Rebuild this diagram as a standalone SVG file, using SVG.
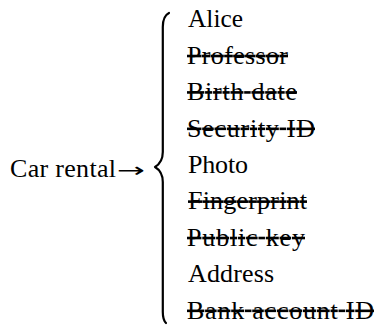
<svg xmlns="http://www.w3.org/2000/svg" width="375" height="326" viewBox="0 0 375 326">
  <defs>
    <style>
      .struck { text-decoration: line-through; }
      .brace { fill: none; stroke: #000; stroke-width: 2.2; stroke-linecap: round; stroke-linejoin: round; }
    </style>
  </defs>
  <rect width="375" height="326" fill="#fff"/>

  <!-- source label with its arrow -->
  <g id="source">
    <text x="10" y="177" font-family="Liberation Serif" font-size="26" textLength="106" lengthAdjust="spacing">Car rental</text>
    <text x="117" y="177" font-family="DejaVu Sans" font-size="20" textLength="28" lengthAdjust="spacingAndGlyphs">→</text>
  </g>

  <!-- attribute list -->
  <g id="item-alice"><text x="188" y="27.3" font-family="Liberation Serif" font-size="26" textLength="55" lengthAdjust="spacingAndGlyphs">Alice</text></g>
  <g id="item-professor"><text class="struck" x="187" y="63.7" font-family="Liberation Serif" font-size="26" textLength="101" lengthAdjust="spacing">Professor</text></g>
  <g id="item-birth-date"><text class="struck" x="187" y="100.1" font-family="Liberation Serif" font-size="26" textLength="110" lengthAdjust="spacing">Birth date</text></g>
  <g id="item-security-id"><text class="struck" x="187" y="136.5" font-family="Liberation Serif" font-size="26" textLength="128" lengthAdjust="spacing">Security ID</text></g>
  <g id="item-photo"><text x="188" y="173" font-family="Liberation Serif" font-size="26" textLength="60" lengthAdjust="spacing">Photo</text></g>
  <g id="item-fingerprint"><text class="struck" x="188" y="209.3" font-family="Liberation Serif" font-size="26" textLength="119" lengthAdjust="spacing">Fingerprint</text></g>
  <g id="item-public-key"><text class="struck" x="187" y="245.7" font-family="Liberation Serif" font-size="26" textLength="118" lengthAdjust="spacing">Public key</text></g>
  <g id="item-address"><text x="188" y="282.1" font-family="Liberation Serif" font-size="26" textLength="86" lengthAdjust="spacing">Address</text></g>
  <g id="item-bank-account-id"><text class="struck" x="187" y="318.5" font-family="Liberation Serif" font-size="26" textLength="187" lengthAdjust="spacing">Bank account ID</text></g>

  <!-- curly brace -->
  <g id="connectors">
    <path class="brace" d="M169,13 C165,15 162.8,19 162.8,27 L162.8,152 C162.8,160 160,164 155,167 C160,170 162.8,174 162.8,182 L162.8,312 C162.8,318 164,321 166,323"/>
  </g>
</svg>
